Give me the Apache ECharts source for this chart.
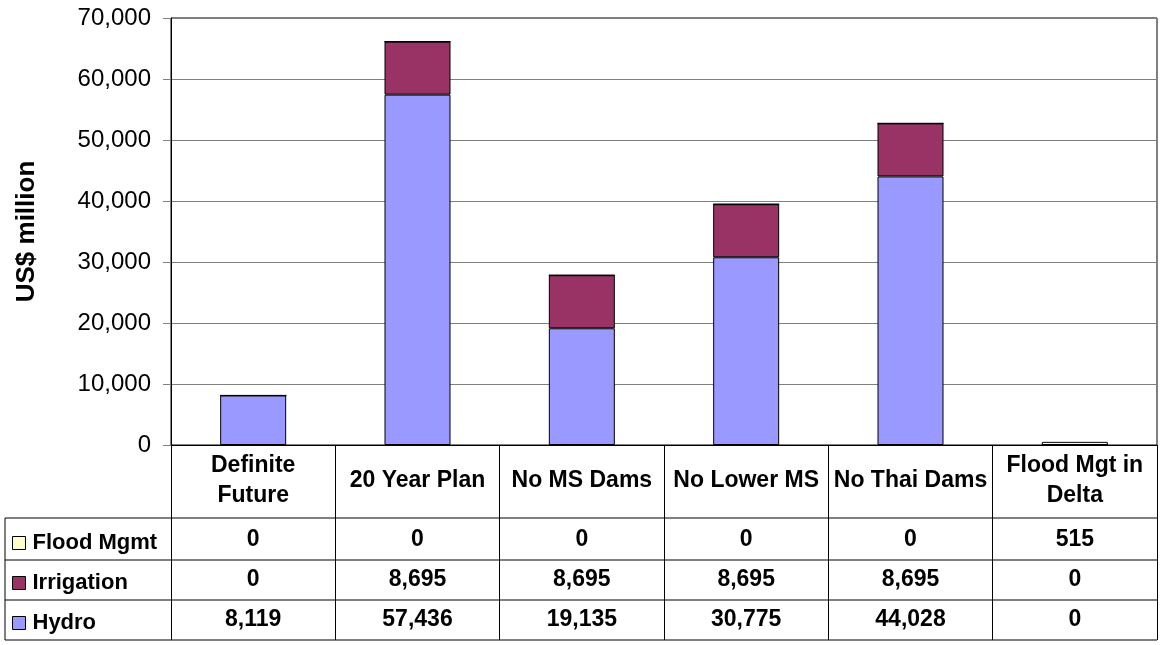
<!DOCTYPE html>
<html>
<head>
<meta charset="utf-8">
<script src="https://cdn.jsdelivr.net/npm/echarts@6/dist/echarts.min.js"></script>
<style>
  html, body { margin: 0; padding: 0; background: #fff; }
  #chart { width: 1161px; height: 645px; }
</style>
</head>
<body>
<div id="chart"></div>
<script>
// 数据
const categories = ['Definite\nFuture', '20 Year Plan', 'No MS Dams', 'No Lower MS', 'No Thai Dams', 'Flood Mgt in\nDelta'];
const hydro = [8119, 57436, 19135, 30775, 44028, 0];
const irrigation = [0, 8695, 8695, 8695, 8695, 0];
const floodMgmt = [0, 0, 0, 0, 0, 515];
const yTicks = { min: 0, max: 70000, interval: 10000 };

// 布局
const G = { left: 171, right: 4, top: 18, bottom: 200 };
const axisY = 645 - G.bottom;           // 0 线
const rowLines = [518, 560, 600, 640];  // 表格横线
const rowCenters = [540, 580, 620];
const font = 'Arial, "Liberation Sans", sans-serif';
const boldSize = 23;

const fmt = v => v.toLocaleString('en-US');

// 表格行的数值轴
function tableAxis(values, center) {
  return {
    type: 'category',
    gridIndex: 0,
    position: 'bottom',
    data: values.map(fmt),
    offset: center - axisY,
    axisLine: { show: false },
    axisTick: { show: false },
    splitLine: { show: false },
    axisLabel: {
      interval: 0, margin: 0, verticalAlign: 'middle',
      color: '#000', fontFamily: font, fontWeight: 'bold', fontSize: boldSize
    }
  };
}

const chart = echarts.init(document.getElementById('chart'));

const lines = [];
// 表格横线
rowLines.forEach(y => {
  lines.push({ type: 'line', shape: { x1: 5, y1: y, x2: 1161 - G.right, y2: y }, style: { stroke: '#000', lineWidth: 1 } });
});
lines.push({ type: 'line', shape: { x1: 5, y1: rowLines[0], x2: 5, y2: rowLines[3] }, style: { stroke: '#000', lineWidth: 1 } });

const option = {
  backgroundColor: '#fff',
  animation: false,
  grid: { left: G.left, right: G.right, top: G.top, bottom: G.bottom, show: true, borderColor: '#000', borderWidth: 1 },
  legend: {
    orient: 'vertical',
    left: 7,
    top: 526,
    data: ['Flood Mgmt', 'Irrigation', 'Hydro'],
    icon: 'rect',
    itemWidth: 13,
    itemHeight: 13,
    itemGap: 16,
    selectedMode: false,
    textStyle: { color: '#000', fontFamily: font, fontWeight: 'bold', fontSize: 22, lineHeight: 24, padding: [0, 0, 0, 2] },
    itemStyle: { borderColor: '#000', borderWidth: 1 }
  },
  xAxis: [
    {
      type: 'category',
      data: categories,
      axisLine: { lineStyle: { color: '#000' } },
      axisTick: { show: true, interval: 0, length: 195, lineStyle: { color: '#000' } },
      axisLabel: {
        interval: 0, margin: 36, verticalAlign: 'middle', lineHeight: 30,
        color: '#000', fontFamily: font, fontWeight: 'bold', fontSize: boldSize
      }
    },
    tableAxis(floodMgmt, rowCenters[0]),
    tableAxis(irrigation, rowCenters[1]),
    tableAxis(hydro, rowCenters[2])
  ],
  yAxis: {
    type: 'value',
    min: yTicks.min,
    max: yTicks.max,
    interval: yTicks.interval,
    name: 'US$ million',
    nameLocation: 'middle',
    nameRotate: 90,
    nameGap: 131,
    nameTextStyle: { color: '#000', fontFamily: font, fontWeight: 'bold', fontSize: 26 },
    axisLine: { show: true, lineStyle: { color: '#000' } },
    axisTick: { show: true, length: 8, lineStyle: { color: '#808080' } },
    splitLine: { lineStyle: { color: '#808080', width: 1 } },
    axisLabel: { color: '#000', fontFamily: font, fontSize: 24, margin: 20, formatter: fmt }
  },
  series: [
    {
      name: 'Hydro', type: 'bar', stack: 'total', data: hydro, barWidth: 66,
      itemStyle: { color: '#9999FF', borderColor: '#000', borderWidth: 1 }
    },
    {
      name: 'Irrigation', type: 'bar', stack: 'total', data: irrigation, barWidth: 66,
      itemStyle: { color: '#993366', borderColor: '#000', borderWidth: 1 }
    },
    {
      name: 'Flood Mgmt', type: 'bar', stack: 'total', data: floodMgmt, barWidth: 66,
      itemStyle: { color: '#FFFFCC', borderColor: '#000', borderWidth: 1 }
    }
  ],
  graphic: lines
};

chart.setOption(option);
</script>
</body>
</html>
